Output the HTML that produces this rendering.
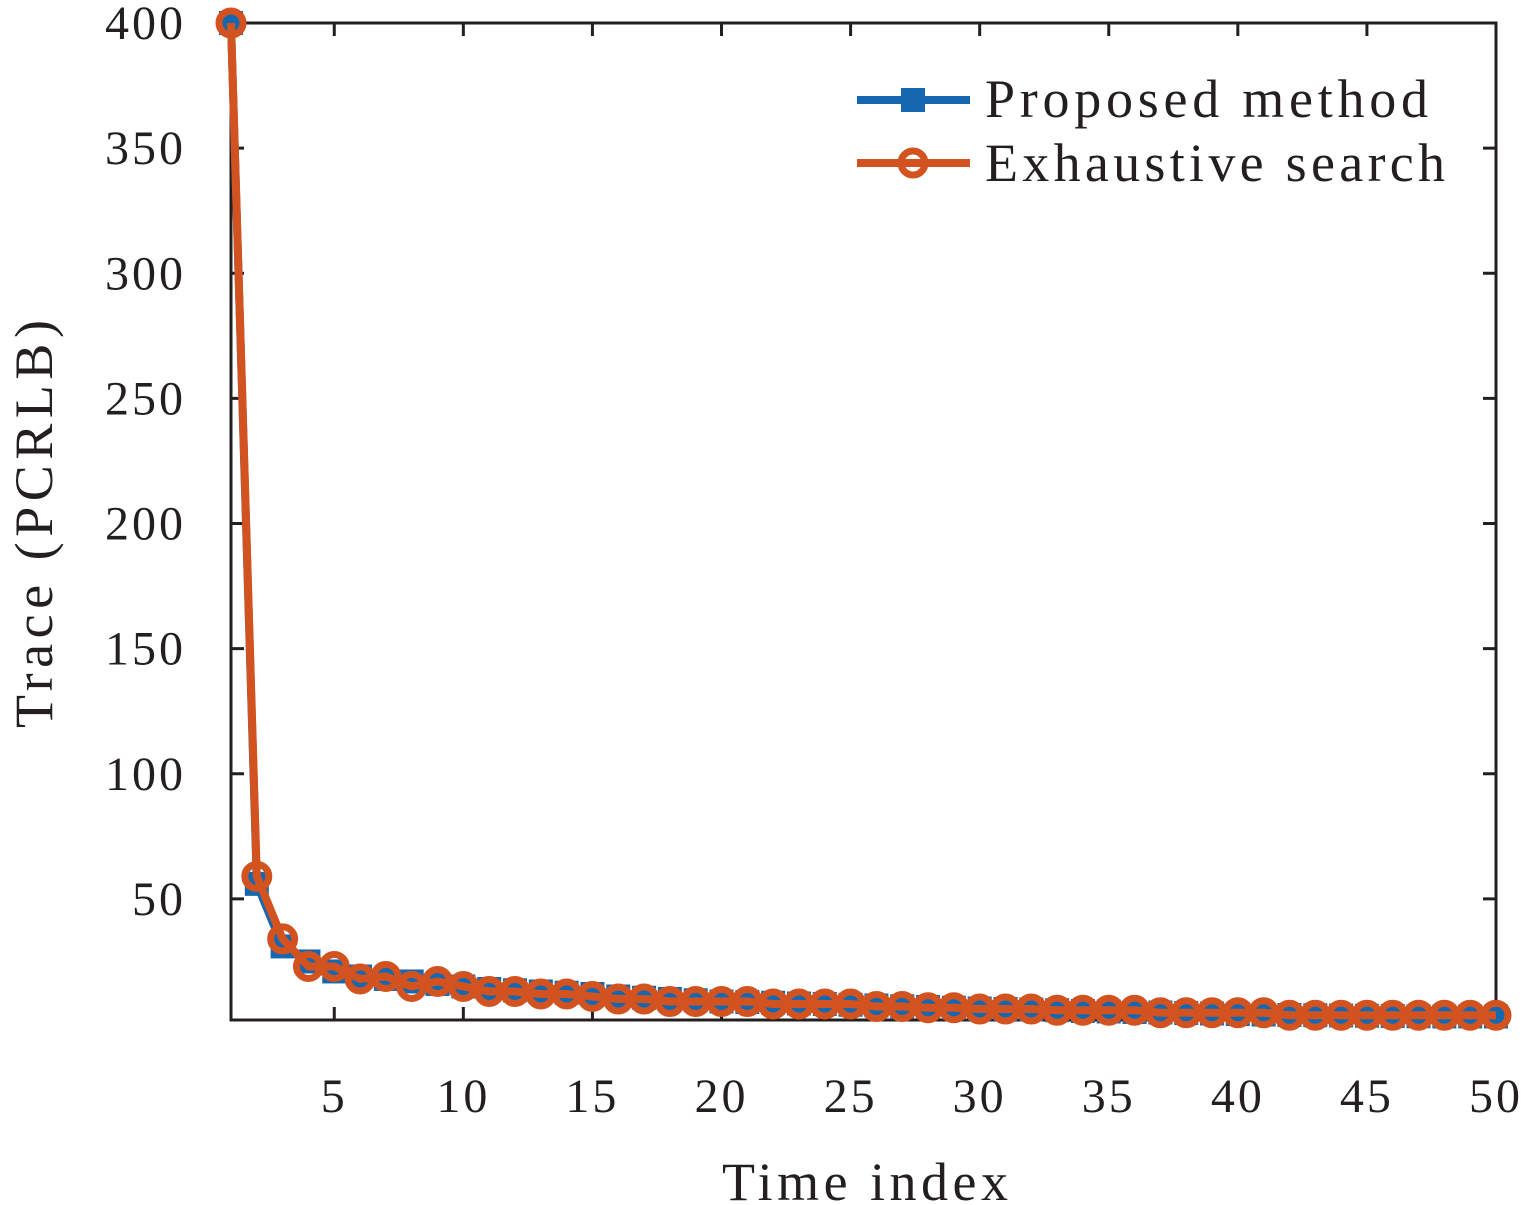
<!DOCTYPE html>
<html><head><meta charset="utf-8"><style>
html,body{margin:0;padding:0;background:#fff;}
svg{display:block;font-family:"Liberation Serif",serif;}
</style></head><body>
<svg id="chart" width="1535" height="1205" viewBox="0 0 1535 1205">
<g id="plot"></g>
</svg>
<script>
const xTicks=[5,10,15,20,25,30,35,40,45,50];
const yTicks=[50,100,150,200,250,300,350,400];
const timeIdx=[1,2,3,4,5,6,7,8,9,10,11,12,13,14,15,16,17,18,19,20,21,22,23,24,25,26,27,28,29,30,31,32,33,34,35,36,37,38,39,40,41,42,43,44,45,46,47,48,49,50];
const proposed=[400,56,31,25,21,19,18,17,16,15,14,13.5,13,12.5,12,11,10.5,10,9.5,9,8.8,8.5,8.2,8,7.7,7.4,7.1,6.8,6.5,6.2,6,5.8,5.5,5.2,5,4.8,4.6,4.4,4.2,4,3.8,3.6,3.5,3.4,3.3,3.2,3.1,3,3,3];
const exhaustive=[400,59,34,23,23,18,19,15,17,15,13,13,12,12,11,10,10,9,9,9,9,8,8,8,8,7,7,6.5,6.5,6,6,6,5.5,5.5,5.5,5.5,4.5,4.5,4.5,4.5,4.5,3.5,3.5,3.5,3.5,3.5,3.5,3.5,3.5,3.5];

const L=231,R=1496,T=23,B=1020,X0=1,X1=50,Y0=1.6,Y1=400;
const sx=v=>L+(v-X0)/(X1-X0)*(R-L);
const sy=v=>B-(v-Y0)/(Y1-Y0)*(B-T);
const NS="http://www.w3.org/2000/svg";
const g=document.getElementById('plot');
function mk(t,a,p){const e=document.createElementNS(NS,t);for(const k in a)e.setAttribute(k,a[k]);(p||g).appendChild(e);return e;}

const frame=mk('rect',{x:L,y:T,width:R-L,height:B-T,fill:'none',stroke:'#231f20','stroke-width':3});



xTicks.forEach(v=>{const x=sx(v);
 const t1=mk('line',{x1:x,x2:x,y1:B,y2:B-13,stroke:'#231f20','stroke-width':3});
 
 const t2=mk('line',{x1:x,x2:x,y1:T,y2:T+13,stroke:'#231f20','stroke-width':3});
 
 const tx=mk('text',{x:x,y:1112,'font-size':48,'text-anchor':'middle',fill:'#231f20','letter-spacing':3});tx.textContent=v;
 
});
yTicks.forEach(v=>{const y=sy(v);
 const t1=mk('line',{x1:L,x2:L+13,y1:y,y2:y,stroke:'#231f20','stroke-width':3});
 
 const t2=mk('line',{x1:R,x2:R-13,y1:y,y2:y,stroke:'#231f20','stroke-width':3});
 
 const tx=mk('text',{x:186,y:y+16,'font-size':48,'text-anchor':'end',fill:'#231f20','letter-spacing':3});tx.textContent=v;
 
});
const xt=mk('text',{x:722,y:1200,'font-size':54,fill:'#231f20',textLength:286,lengthAdjust:'spacing'});xt.textContent='Time index';

const yt=mk('text',{x:0,y:0,'font-size':54,fill:'#231f20',textLength:408,lengthAdjust:'spacing',transform:'translate(52,728) rotate(-90)'});yt.textContent='Trace (PCRLB)';


const BLUE='#1568b0',ORG='#d2531f';
function series(vals,color,marker,name){
 const pts=vals.map((v,i)=>sx(timeIdx[i])+','+sy(v)).join(' ');
 const pl=mk('polyline',{points:pts,fill:'none',stroke:color,'stroke-width':8,'stroke-linejoin':'round'});
 
 vals.forEach((v,i)=>{const x=sx(timeIdx[i]),y=sy(v);let m;
  if(marker==='sq'){m=mk('rect',{x:x-12,y:y-12,width:24,height:24,fill:color});}
  else{m=mk('circle',{cx:x,cy:y,r:12,fill:'none',stroke:color,'stroke-width':7});}
  
 });
}
series(proposed,BLUE,'sq','proposed-method');
series(exhaustive,ORG,'ci','exhaustive-search');

const lg=mk('g',{});

const l1=mk('line',{x1:857,x2:970,y1:100,y2:100,stroke:BLUE,'stroke-width':8},lg);

const m1=mk('rect',{x:901,y:88,width:24,height:24,fill:BLUE},lg);

const t1=mk('text',{x:985,y:117,'font-size':54,fill:'#231f20',textLength:443,lengthAdjust:'spacing'},lg);t1.textContent='Proposed method';

const l2=mk('line',{x1:857,x2:970,y1:163,y2:163,stroke:ORG,'stroke-width':8},lg);

const m2=mk('circle',{cx:913,cy:163,r:12,fill:'none',stroke:ORG,'stroke-width':7},lg);

const t2=mk('text',{x:985,y:181,'font-size':54,fill:'#231f20',textLength:460,lengthAdjust:'spacing'},lg);t2.textContent='Exhaustive search';

</script>
</body></html>
